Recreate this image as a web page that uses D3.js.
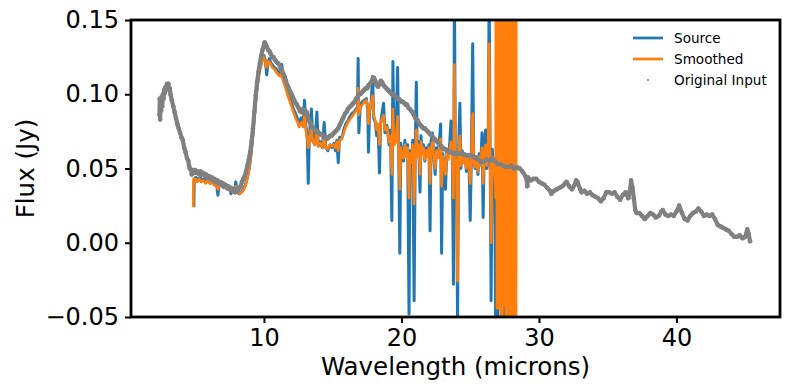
<!DOCTYPE html>
<html><head><meta charset="utf-8">
<script src="https://cdn.jsdelivr.net/npm/d3@7"></script>
<style>body{margin:0;background:#fff}svg{display:block}text{font-family:"DejaVu Sans",sans-serif}</style>
</head><body><svg id="c" width="790" height="390"></svg>
<script>
const xTicks=[10,20,30,40];
const yTicks=[-0.05,0.00,0.05,0.10,0.15];
const seriesNames=["Source","Smoothed","Original Input"];

const inputWl=[2.40,2.42,2.45,2.48,2.52,2.55,2.60,2.65,2.70,2.75,2.80,2.85,2.90,2.95,3.00,3.05,3.10,3.15,3.20,3.30,3.40,3.50,3.60,3.70,3.80,3.90,4.00,4.10,4.20,4.30,4.40,4.50,4.55,4.60,4.70,4.75,4.80,4.90,5.00,5.10,5.20,5.30,5.40,5.50,5.60,5.70,5.80,5.90,6.00,6.10,6.20,6.30,6.40,6.50,6.60,6.70,6.80,6.90,7.00,7.10,7.20,7.30,7.40,7.50,7.60,7.70,7.80,7.90,8.00,8.10,8.20,8.30,8.40,8.50,8.60,8.70,8.80,8.90,9.00,9.10,9.20,9.30,9.40,9.50,9.60,9.70,9.80,9.90,10.00,10.05,10.10,10.20,10.30,10.40,10.50,10.60,10.70,10.80,10.90,11.00,11.10,11.20,11.30,11.40,11.50,11.60,11.70,11.80,11.90,12.00,12.10,12.20,12.30,12.40,12.50,12.60,12.70,12.80,12.90,13.00,13.10,13.20,13.30,13.40,13.50,13.60,13.70,13.80,13.90,14.00,14.10,14.20,14.30,14.40,14.50,14.60,14.70,14.80,14.90,15.00,15.10,15.20,15.30,15.40,15.50,15.60,15.70,15.80,15.90,16.00,16.10,16.20,16.30,16.40,16.50,16.60,16.70,16.80,16.90,17.00,17.10,17.20,17.30,17.40,17.50,17.60,17.70,17.80,17.90,18.00,18.10,18.20,18.30,18.40,18.50,18.60,18.70,18.80,18.90,19.00,19.10,19.20,19.30,19.40,19.50,19.60,19.70,19.80,19.90,20.00,20.10,20.20,20.30,20.40,20.50,20.60,20.70,20.80,20.90,21.00,21.10,21.20,21.30,21.40,21.50,21.60,21.70,21.80,21.90,22.00,22.10,22.20,22.30,22.40,22.50,22.60,22.70,22.80,22.90,23.00,23.10,23.20,23.30,23.40,23.50,23.60,23.70,23.80,24.00,24.20,24.40,24.60,24.80,25.00,25.20,25.40,25.60,25.80,26.00,26.20,26.40,26.60,26.80,27.00,27.20,27.40,27.60,27.80,28.00,28.20,28.40,28.60,28.80,29.00,29.10,29.15,29.20,29.40,29.60,29.80,30.00,30.20,30.40,30.60,30.80,30.90,31.10,31.30,31.50,31.70,31.90,32.00,32.20,32.40,32.60,32.70,32.80,33.00,33.10,33.30,33.50,33.70,33.90,34.10,34.30,34.50,34.70,34.90,35.10,35.30,35.50,35.70,35.90,36.10,36.30,36.50,36.60,36.70,36.80,36.90,37.00,37.10,37.30,37.50,37.70,37.90,38.10,38.30,38.50,38.70,38.90,39.00,39.20,39.40,39.60,39.80,40.00,40.20,40.40,40.60,40.80,41.00,41.20,41.40,41.60,41.80,42.00,42.20,42.40,42.60,42.80,43.00,43.20,43.40,43.60,43.80,44.00,44.20,44.40,44.60,44.80,45.00,45.15,45.25,45.35];
const inputFlux=[0.086,0.097,0.083,0.094,0.089,0.098,0.092,0.100,0.097,0.103,0.101,0.105,0.104,0.107,0.106,0.107,0.103,0.104,0.100,0.096,0.092,0.088,0.084,0.080,0.077,0.074,0.071,0.069,0.064,0.061,0.057,0.055,0.052,0.050,0.049,0.046,0.049,0.047,0.049,0.047,0.048,0.046,0.048,0.046,0.047,0.045,0.046,0.044,0.045,0.043,0.044,0.042,0.043,0.041,0.042,0.040,0.041,0.039,0.040,0.038,0.039,0.037,0.038,0.036,0.037,0.035,0.036,0.034,0.036,0.035,0.037,0.038,0.041,0.043,0.045,0.048,0.052,0.056,0.061,0.068,0.077,0.088,0.099,0.108,0.115,0.121,0.126,0.130,0.133,0.135,0.134,0.132,0.130,0.129,0.127,0.125,0.125,0.123,0.122,0.121,0.120,0.118,0.116,0.114,0.112,0.109,0.106,0.104,0.102,0.100,0.098,0.096,0.094,0.093,0.091,0.089,0.088,0.090,0.087,0.089,0.088,0.085,0.082,0.080,0.078,0.077,0.076,0.075,0.075,0.074,0.073,0.073,0.072,0.071,0.071,0.070,0.071,0.072,0.072,0.073,0.074,0.075,0.076,0.077,0.079,0.081,0.083,0.085,0.087,0.088,0.090,0.091,0.092,0.093,0.094,0.095,0.097,0.098,0.100,0.100,0.101,0.102,0.103,0.104,0.104,0.106,0.107,0.108,0.110,0.111,0.109,0.106,0.105,0.107,0.109,0.108,0.106,0.105,0.104,0.103,0.102,0.101,0.100,0.100,0.099,0.098,0.097,0.097,0.096,0.095,0.095,0.094,0.093,0.093,0.091,0.090,0.089,0.088,0.086,0.084,0.083,0.082,0.080,0.079,0.078,0.077,0.077,0.076,0.075,0.074,0.073,0.072,0.071,0.070,0.069,0.068,0.067,0.066,0.065,0.064,0.063,0.063,0.062,0.062,0.061,0.061,0.061,0.060,0.060,0.060,0.060,0.059,0.059,0.059,0.058,0.057,0.056,0.054,0.055,0.056,0.055,0.057,0.055,0.053,0.053,0.052,0.051,0.051,0.052,0.050,0.051,0.050,0.048,0.045,0.043,0.038,0.044,0.042,0.043,0.043,0.041,0.040,0.039,0.037,0.035,0.033,0.035,0.036,0.037,0.038,0.040,0.041,0.038,0.036,0.039,0.042,0.041,0.036,0.034,0.035,0.033,0.034,0.032,0.031,0.030,0.028,0.030,0.034,0.034,0.033,0.034,0.031,0.029,0.032,0.034,0.030,0.034,0.042,0.037,0.030,0.022,0.020,0.020,0.018,0.016,0.018,0.020,0.019,0.017,0.018,0.021,0.022,0.019,0.018,0.019,0.018,0.021,0.025,0.020,0.016,0.015,0.018,0.020,0.021,0.023,0.021,0.018,0.019,0.018,0.019,0.016,0.012,0.011,0.010,0.009,0.008,0.006,0.004,0.004,0.005,0.003,0.004,0.009,0.006,0.001];

const sourceWl=[4.90,4.93,5.05,5.2,5.35,5.5,5.65,5.8,5.95,6.1,6.25,6.4,6.55,6.65,6.75,6.9,7.05,7.2,7.35,7.5,7.6,7.7,7.85,7.95,8.05,8.2,8.35,8.5,8.65,8.8,8.95,9.1,9.2,9.3,9.4,9.5,9.6,9.7,9.8,9.9,10.0,10.1,10.2,10.3,10.4,10.5,10.6,10.75,10.9,11.05,11.2,11.3,11.4,11.55,11.7,11.85,12.0,12.15,12.3,12.45,12.55,12.7,12.85,12.95,13.05,13.15,13.22,13.3,13.45,13.55,13.7,13.85,13.95,14.1,14.25,14.38,14.5,14.65,14.8,14.95,15.1,15.2,15.3,15.4,15.5,15.65,15.8,15.95,16.1,16.25,16.4,16.55,16.7,16.8,16.85,16.9,17.0,17.15,17.3,17.45,17.55,17.6,17.68,17.8,17.9,17.98,18.1,18.2,18.3,18.4,18.48,18.6,18.7,18.8,18.95,19.1,19.2,19.3,19.38,19.45,19.6,19.72,19.8,19.88,19.95,20.05,20.15,20.25,20.35,20.45,20.55,20.62,20.72,20.82,20.92,21.0,21.08,21.15,21.25,21.35,21.42,21.5,21.6,21.7,21.8,21.9,22.0,22.08,22.15,22.25,22.35,22.45,22.55,22.65,22.75,22.85,22.92,23.0,23.1,23.2,23.3,23.4,23.5,23.6,23.7,23.78,23.85,23.92,24.0,24.08,24.15,24.25,24.32,24.42,24.52,24.62,24.72,24.82,24.92,25.0,25.08,25.18,25.26,25.36,25.46,25.56,25.66,25.76,25.86,25.94,26.02,26.12,26.2,26.3,26.38,26.45,26.52,26.6,26.7,26.78,26.85,26.92,27.0,27.1,27.2,27.32,27.38,27.45,27.52];
const sourceFlux=[0.024,0.043,0.044,0.042,0.044,0.042,0.043,0.041,0.042,0.040,0.041,0.039,0.040,0.032,0.040,0.041,0.037,0.039,0.036,0.037,0.033,0.036,0.034,0.041,0.034,0.033,0.034,0.036,0.039,0.044,0.051,0.063,0.073,0.085,0.096,0.105,0.112,0.117,0.121,0.124,0.126,0.123,0.113,0.122,0.124,0.121,0.120,0.118,0.117,0.115,0.113,0.120,0.110,0.107,0.102,0.098,0.094,0.090,0.087,0.083,0.080,0.084,0.081,0.096,0.079,0.070,0.040,0.072,0.090,0.069,0.066,0.088,0.065,0.068,0.064,0.081,0.064,0.062,0.066,0.064,0.067,0.062,0.069,0.054,0.071,0.070,0.076,0.080,0.082,0.085,0.087,0.088,0.090,0.091,0.124,0.074,0.092,0.095,0.096,0.097,0.089,0.061,0.088,0.095,0.112,0.084,0.081,0.072,0.079,0.047,0.080,0.088,0.094,0.074,0.079,0.066,0.076,0.015,0.122,0.066,0.071,0.118,0.060,-0.007,0.067,0.061,0.055,0.069,0.058,0.066,-0.048,0.062,0.052,0.069,-0.039,0.060,0.108,0.058,0.068,0.034,0.072,0.060,0.066,0.055,0.064,0.060,0.066,0.008,0.068,0.074,0.058,0.046,0.064,0.058,0.068,0.080,-0.007,0.060,0.052,0.036,0.062,0.058,0.066,0.082,0.060,-0.028,0.17,0.058,0.055,-0.055,0.060,0.094,0.050,0.062,0.054,0.060,0.048,0.058,0.052,0.015,0.056,0.134,0.054,0.050,0.058,0.046,0.060,0.052,0.074,0.017,0.064,0.076,0.050,0.058,0.17,0.060,-0.039,0.063,0.044,0.052,-0.06,0.02,-0.06,0.05,0.0,-0.06,0.02,-0.06,-0.06];

const smoothWl=[4.85,4.88,5.0,5.15,5.3,5.45,5.6,5.75,5.9,6.05,6.2,6.35,6.5,6.65,6.8,6.95,7.1,7.25,7.4,7.55,7.7,7.85,7.95,8.1,8.25,8.4,8.55,8.7,8.85,9.0,9.1,9.2,9.3,9.4,9.5,9.6,9.7,9.8,9.9,10.0,10.1,10.2,10.3,10.4,10.5,10.6,10.75,10.9,11.05,11.2,11.3,11.4,11.55,11.7,11.85,12.0,12.15,12.3,12.45,12.55,12.7,12.85,12.95,13.05,13.15,13.22,13.3,13.45,13.55,13.7,13.85,13.95,14.1,14.25,14.38,14.5,14.65,14.8,14.95,15.1,15.2,15.3,15.4,15.5,15.65,15.8,15.95,16.1,16.25,16.4,16.55,16.7,16.8,16.85,16.9,17.0,17.15,17.3,17.45,17.55,17.6,17.68,17.8,17.9,17.98,18.1,18.2,18.3,18.4,18.48,18.6,18.7,18.8,18.95,19.1,19.2,19.3,19.38,19.45,19.6,19.72,19.8,19.88,19.95,20.05,20.15,20.25,20.35,20.45,20.55,20.62,20.72,20.82,20.92,21.0,21.08,21.15,21.25,21.35,21.42,21.5,21.6,21.7,21.8,21.9,22.0,22.08,22.15,22.25,22.35,22.45,22.55,22.65,22.75,22.85,22.92,23.0,23.1,23.2,23.3,23.4,23.5,23.6,23.7,23.78,23.85,23.92,24.0,24.08,24.15,24.25,24.32,24.42,24.52,24.62,24.72,24.82,24.92,25.0,25.08,25.18,25.26,25.36,25.46,25.56,25.66,25.76,25.86,25.94,26.02,26.12,26.2,26.3,26.38,26.45,26.52,26.6,26.7,26.78,26.85,26.90,26.95,27.00,27.05,27.10,27.15,27.20,27.25,27.33,27.36,27.41,27.46,27.51,27.56,27.61,27.66,27.71,27.76,27.81,27.86,27.91,27.96,28.01,28.06,28.11,28.16,28.21,28.26,28.31,28.36];
const smoothFlux=[0.024,0.043,0.043,0.041,0.043,0.041,0.042,0.040,0.042,0.040,0.041,0.039,0.040,0.036,0.040,0.038,0.037,0.038,0.036,0.036,0.035,0.034,0.038,0.034,0.033,0.034,0.036,0.040,0.046,0.055,0.064,0.074,0.085,0.095,0.104,0.111,0.116,0.120,0.123,0.125,0.122,0.118,0.122,0.122,0.120,0.118,0.117,0.115,0.113,0.112,0.115,0.109,0.105,0.100,0.096,0.092,0.088,0.084,0.081,0.078,0.081,0.078,0.086,0.076,0.070,0.064,0.070,0.078,0.068,0.066,0.076,0.065,0.067,0.064,0.072,0.064,0.063,0.066,0.065,0.066,0.064,0.068,0.062,0.069,0.070,0.074,0.078,0.081,0.083,0.085,0.087,0.089,0.090,0.104,0.086,0.091,0.093,0.095,0.096,0.092,0.080,0.090,0.094,0.099,0.086,0.082,0.076,0.080,0.066,0.080,0.084,0.086,0.076,0.078,0.068,0.072,0.046,0.090,0.066,0.068,0.085,0.062,0.036,0.064,0.060,0.057,0.066,0.058,0.064,0.030,0.060,0.054,0.066,0.026,0.058,0.076,0.058,0.066,0.046,0.068,0.060,0.064,0.056,0.062,0.058,0.064,0.040,0.064,0.068,0.058,0.050,0.062,0.057,0.064,0.070,0.038,0.058,0.053,0.046,0.060,0.056,0.062,0.068,0.058,0.030,0.120,0.057,0.054,-0.026,0.058,0.072,0.052,0.060,0.054,0.058,0.050,0.057,0.053,0.040,0.055,0.087,0.054,0.051,0.057,0.048,0.058,0.052,0.064,0.040,0.060,0.066,0.052,0.057,0.134,0.056,0.000,0.058,0.046,0.052,0.030,0.4,-0.044,0.4,-0.044,0.4,-0.044,0.4,-0.4,-0.4,0.4,-0.042,0.4,-0.042,0.4,-0.4,0.4,-0.4,0.4,-0.4,0.4,-0.4,0.4,-0.4,0.4,-0.4,0.4,-0.4,0.4,-0.4,0.4];

const colors={Source:"#1f77b4",Smoothed:"#ff7f0e","Original Input":"#808080"};

const svg=d3.select("#c");
const L=131,R=780,T=20,B=317;
const x=d3.scaleLinear().domain([0.33,47.53]).range([L,R]);
const y=d3.scaleLinear().domain([-0.05,0.15]).range([B,T]);

svg.append("defs").append("clipPath").attr("id","clip").append("rect")
  .attr("x",L).attr("y",T).attr("width",R-L).attr("height",B-T);

const line=d3.line().x(d=>x(d[0])).y(d=>y(d[1]));
const g=svg.append("g").attr("clip-path","url(#clip)");
const zip=(a,b)=>a.map((v,i)=>[v,b[i]]);
g.append("path").datum(zip(sourceWl,sourceFlux)).attr("d",line)
  .attr("fill","none").attr("stroke",colors.Source).attr("stroke-width",3).attr("stroke-linejoin","round");
g.append("path").datum(zip(smoothWl,smoothFlux)).attr("d",line)
  .attr("fill","none").attr("stroke",colors.Smoothed).attr("stroke-width",2.7).attr("stroke-linejoin","round");
const inputPts=zip(inputWl,inputFlux);
g.append("path").datum(inputPts).attr("d",line)
  .attr("fill","none").attr("stroke",colors["Original Input"]).attr("stroke-width",4.2).attr("stroke-linejoin","round").attr("stroke-linecap","round");
g.selectAll("circle.pt").data(inputPts).join("circle").attr("class","pt")
  .attr("cx",d=>x(d[0])).attr("cy",d=>y(d[1])).attr("r",2.3).attr("fill",colors["Original Input"]);

// axes
const xa=svg.append("g").attr("transform",`translate(0,${B})`)
  .call(d3.axisBottom(x).tickValues(xTicks).tickFormat(d3.format("d")).tickSize(6).tickPadding(6));
const ya=svg.append("g").attr("transform",`translate(${L},0)`)
  .call(d3.axisLeft(y).tickValues(yTicks).tickFormat(d=>d3.format(".2f")(d).replace("-","\u2212")).tickSize(6).tickPadding(6));
[xa,ya].forEach(a=>{a.select(".domain").remove();a.selectAll("line").attr("stroke","#000").attr("stroke-width",2);
  a.selectAll("text").attr("font-size",24).attr("fill","#000").attr("font-family","DejaVu Sans");});

svg.append("rect").attr("x",L).attr("y",T).attr("width",R-L).attr("height",B-T)
  .attr("fill","none").attr("stroke","#000").attr("stroke-width",2.8);

svg.append("text").attr("x",(L+R)/2).attr("y",375).attr("text-anchor","middle")
  .attr("font-size",24.5).text("Wavelength (microns)");
svg.append("text").attr("transform",`translate(34,${(T+B)/2}) rotate(-90)`).attr("text-anchor","middle")
  .attr("font-size",24.5).text("Flux (Jy)");

// legend
const lg=svg.append("g");
seriesNames.forEach((n,i)=>{
  const yy=38+i*21;
  if(n==="Original Input"){
    lg.append("circle").attr("cx",648).attr("cy",yy).attr("r",0.9).attr("fill",colors[n]);
  } else {
    lg.append("line").attr("x1",633).attr("x2",663).attr("y1",yy).attr("y2",yy)
      .attr("stroke",colors[n]).attr("stroke-width",2.7);
  }
  lg.append("text").attr("x",674).attr("y",yy).attr("dy","0.36em").attr("font-size",13.6).text(n);
});
</script></body></html>
